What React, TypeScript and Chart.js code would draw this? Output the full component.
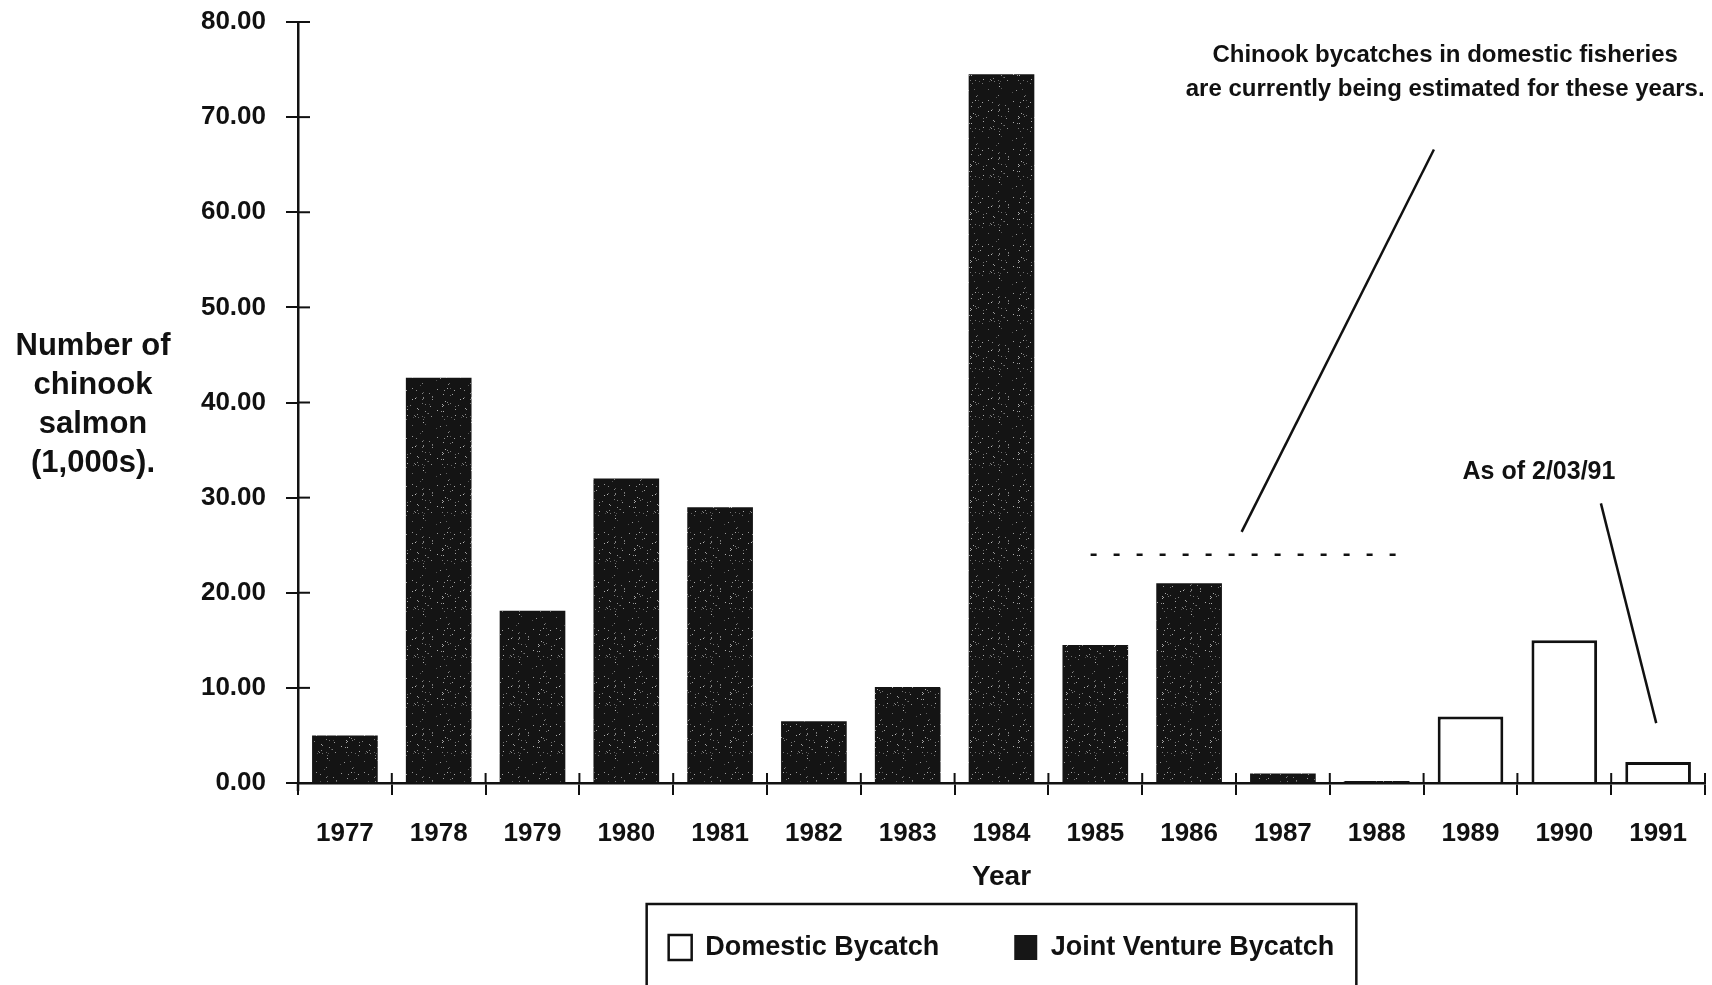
import React, { useEffect, useRef } from "react";
import { Chart, registerables } from "chart.js";

Chart.register(...registerables);

const years = ["1977", "1978", "1979", "1980", "1981", "1982", "1983", "1984", "1985", "1986", "1987", "1988", "1989", "1990", "1991"];
const domesticBycatch = [null, null, null, null, null, null, null, null, null, null, null, null, 7.0, 15.0, 2.2];
const jointVentureBycatch = [5.0, 42.6, 18.1, 32.0, 29.0, 6.5, 10.1, 74.5, 14.5, 21.0, 1.0, 0.2, null, null, null];
const yTicks = [0, 10, 20, 30, 40, 50, 60, 70, 80];
const yTitleLines = ["Number of", "chinook", "salmon", "(1,000s)."];
const noteLines = ["Chinook bycatches in domestic fisheries", "are currently being estimated for these years."];
const asOfText = "As of 2/03/91";

// annotation geometry in data space (category index, value)
const dottedRange = { from: 7.95, to: 11.35, value: 24 };
const pointerLines = [
  [9.56, 26.4, 11.61, 66.6],
  [13.39, 29.4, 13.98, 6.3],
];
const noteAnchor = { x: 11.73, y1: 76.5, y2: 72.9 };
const asOfAnchor = { x: 12.73, y: 32.7 };

const FONT = "'Liberation Sans', Arial, Helvetica, sans-serif";

function makeSpecklePattern(): CanvasPattern | string {
  const c = document.createElement("canvas");
  c.width = 48;
  c.height = 48;
  const g = c.getContext("2d");
  if (!g) return "#161616";
  g.fillStyle = "#141414";
  g.fillRect(0, 0, 48, 48);
  // deterministic speckle texture (style only)
  let s = 12345;
  const next = () => {
    s = (s * 1103515245 + 12345) % 2147483648;
    return s / 2147483648;
  };
  for (let i = 0; i < 70; i++) {
    const x = next() * 48;
    const y = next() * 48;
    const a = 0.25 + next() * 0.5;
    g.fillStyle = `rgba(235,235,235,${a.toFixed(2)})`;
    g.fillRect(Math.floor(x), Math.floor(y), 1, 1);
  }
  const p = g.createPattern(c, "repeat");
  return p || "#161616";
}

const extrasPlugin = {
  id: "extras",
  afterDraw(chart: any) {
    const ctx = chart.ctx;
    const xs = chart.scales.x;
    const ys = chart.scales.y;
    const area = chart.chartArea;
    ctx.save();
    ctx.strokeStyle = "#111";
    ctx.fillStyle = "#111";
    // inner tick marks on y axis
    ctx.lineWidth = 2;
    yTicks.forEach((v) => {
      const y = ys.getPixelForValue(v);
      ctx.beginPath();
      ctx.moveTo(area.left, y);
      ctx.lineTo(area.left + 12, y);
      ctx.stroke();
    });
    // inner tick marks on x axis (category boundaries)
    for (let i = 1; i <= years.length; i++) {
      const x = xs.getPixelForValue(i - 0.5);
      ctx.beginPath();
      ctx.moveTo(x, area.bottom);
      ctx.lineTo(x, area.bottom - 10);
      ctx.stroke();
    }
    // y axis extends a bit below the x axis
    ctx.lineWidth = 2.5;
    ctx.beginPath();
    ctx.moveTo(area.left, area.bottom);
    ctx.lineTo(area.left, area.bottom + 8);
    ctx.stroke();

    // dotted line
    ctx.lineWidth = 2.5;
    ctx.setLineDash([6, 17]);
    ctx.beginPath();
    const dy = ys.getPixelForValue(dottedRange.value);
    ctx.moveTo(xs.getPixelForValue(dottedRange.from), dy);
    ctx.lineTo(xs.getPixelForValue(dottedRange.to), dy);
    ctx.stroke();
    ctx.setLineDash([]);

    // pointer lines
    ctx.lineWidth = 2.5;
    pointerLines.forEach(([x1, y1, x2, y2]) => {
      ctx.beginPath();
      ctx.moveTo(xs.getPixelForValue(x1), ys.getPixelForValue(y1));
      ctx.lineTo(xs.getPixelForValue(x2), ys.getPixelForValue(y2));
      ctx.stroke();
    });

    // note texts
    ctx.textAlign = "center";
    ctx.textBaseline = "middle";
    ctx.font = `bold 24px ${FONT}`;
    ctx.fillText(noteLines[0], xs.getPixelForValue(noteAnchor.x), ys.getPixelForValue(noteAnchor.y1));
    ctx.fillText(noteLines[1], xs.getPixelForValue(noteAnchor.x), ys.getPixelForValue(noteAnchor.y2));
    ctx.font = `bold 25px ${FONT}`;
    ctx.fillText(asOfText, xs.getPixelForValue(asOfAnchor.x), ys.getPixelForValue(asOfAnchor.y));

    // y axis title (stacked lines)
    ctx.font = `bold 31px ${FONT}`;
    const midY = ys.getPixelForValue(40) + 2;
    const lh = 39;
    yTitleLines.forEach((t, i) => {
      ctx.fillText(t, 93, midY + (i - (yTitleLines.length - 1) / 2) * lh);
    });

    // legend frame
    const lg = chart.legend;
    if (lg && lg.legendHitBoxes && lg.legendHitBoxes.length) {
      const boxes = lg.legendHitBoxes;
      const left = Math.min(...boxes.map((b: any) => b.left)) - 22;
      const right = Math.max(...boxes.map((b: any) => b.left + b.width)) + 22;
      ctx.lineWidth = 2.5;
      ctx.strokeRect(left, 904, right - left, chart.height);
    }
    ctx.restore();
  },
};

export default function App() {
  const ref = useRef<HTMLCanvasElement | null>(null);
  useEffect(() => {
    document.body.style.margin = "0";
    const canvas = ref.current;
    if (!canvas) return;
    const speckle = makeSpecklePattern();
    const chart = new Chart(canvas, {
      type: "bar",
      data: {
        labels: years,
        datasets: [
          {
            label: "Domestic Bycatch",
            data: domesticBycatch,
            backgroundColor: "#ffffff",
            borderColor: "#111111",
            borderWidth: 3,
            barPercentage: 0.7,
            categoryPercentage: 1.0,
          },
          {
            label: "Joint Venture Bycatch",
            data: jointVentureBycatch,
            backgroundColor: speckle as any,
            borderColor: "#161616",
            borderWidth: 0,
            barPercentage: 0.7,
            categoryPercentage: 1.0,
          },
        ],
      },
      options: {
        responsive: false,
        animation: false,
        layout: { padding: { left: 0, right: 7, top: 22, bottom: 14 } },
        plugins: {
          tooltip: { enabled: false },
          legend: {
            position: "bottom",
            fullSize: false,
            labels: {
              color: "#111",
              font: { family: FONT, size: 27, weight: "bold" },
              boxWidth: 23,
              boxHeight: 25,
              padding: 75,
              generateLabels: (ch: any) =>
                ch.data.datasets.map((d: any, i: number) => ({
                  text: d.label,
                  fillStyle: i === 0 ? "#ffffff" : "#161616",
                  strokeStyle: "#111111",
                  lineWidth: i === 0 ? 2.5 : 0,
                  fontColor: "#111",
                  hidden: false,
                  datasetIndex: i,
                })),
            },
          },
        },
        scales: {
          x: {
            stacked: true,
            grid: { display: true, offset: true, drawOnChartArea: false, drawTicks: true, tickLength: 12, color: "#111", lineWidth: 2 },
            border: { display: true, color: "#111", width: 2.5 },
            ticks: { color: "#111", font: { family: FONT, size: 26, weight: "bold" }, padding: 23, maxRotation: 0 },
            title: {
              display: true,
              text: "Year",
              color: "#111",
              font: { family: FONT, size: 28, weight: "bold" },
              padding: { top: 0, bottom: -35 },
            },
            afterFit: (s: any) => { s.height = 76; },
          },
          y: {
            stacked: true,
            min: 0,
            max: 80,
            grid: { display: true, drawOnChartArea: false, drawTicks: true, tickLength: 12, color: "#111", lineWidth: 2 },
            border: { display: true, color: "#111", width: 2.5 },
            ticks: {
              stepSize: 10,
              color: "#111",
              font: { family: FONT, size: 26, weight: "bold" },
              padding: 20,
              callback: (v: any) => Number(v).toFixed(2),
            },
            afterFit: (s: any) => { s.width = 298; s.paddingTop = 0; },
          },
        },
      },
      plugins: [extrasPlugin],
    });
    return () => chart.destroy();
  }, []);
  return (
    <div style={{ position: "absolute", left: 0, top: 0, width: 1712, height: 985, background: "#fff" }}>
      <canvas ref={ref} width={1712} height={985} style={{ display: "block" }} />
    </div>
  );
}
